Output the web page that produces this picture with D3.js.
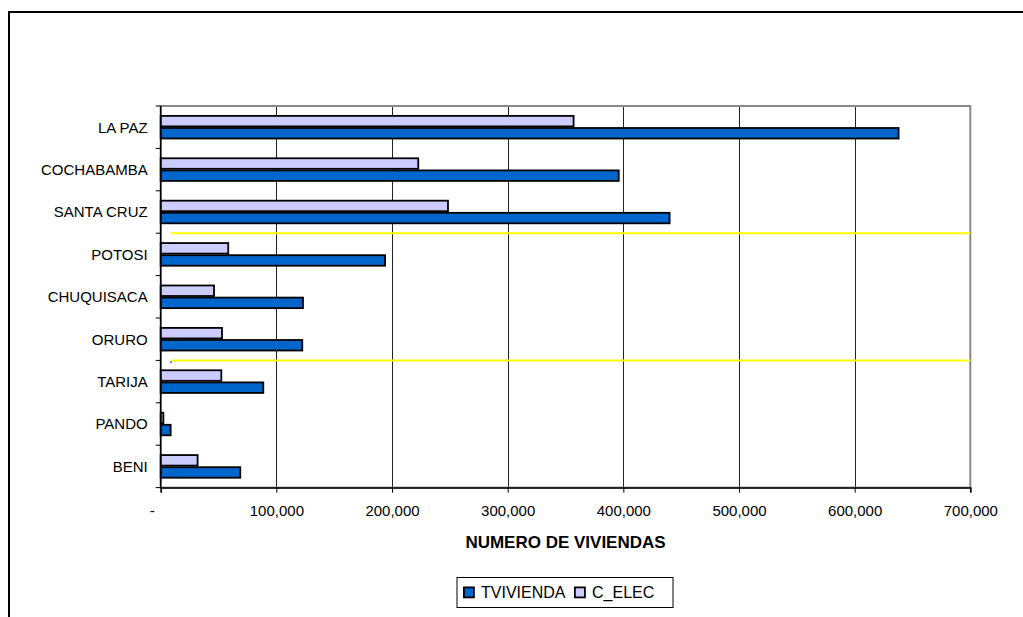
<!DOCTYPE html>
<html>
<head>
<meta charset="utf-8">
<script src="https://cdn.jsdelivr.net/npm/d3@7"></script>
<style>
  html, body { margin: 0; padding: 0; background: #fff; }
  svg { display: block; font-family: "Liberation Sans", Arial, sans-serif; }
</style>
</head>
<body>
<svg id="chart" width="1023" height="617"></svg>
<script>
// Departments, top to bottom
const departments = ["LA PAZ", "COCHABAMBA", "SANTA CRUZ", "POTOSI", "CHUQUISACA",
                     "ORURO", "TARIJA", "PANDO", "BENI"];
// Total dwellings per department
const tvivienda = [638000, 396000, 440000, 194000, 123000, 122400, 88700, 8600, 68800];
// Dwellings with electricity
const cElec = [357000, 222700, 248400, 58400, 46100, 53000, 52400, 2300, 31900];

const seriesNames = ["TVIVIENDA", "C_ELEC"];
const xTicks = [0, 100000, 200000, 300000, 400000, 500000, 600000, 700000];
const axisTitle = "NUMERO DE VIVIENDAS";

// Highlight lines drawn between department groups
const highlightAfter = ["SANTA CRUZ", "ORURO"];
const highlightFrom = 8700;

const svg = d3.select("#chart");
const W = 1023, H = 617;

// outer chart frame
svg.append("rect")
  .attr("x", 9).attr("y", 12)
  .attr("width", W + 20).attr("height", H + 20)
  .attr("fill", "#fff").attr("stroke", "#000").attr("stroke-width", 2);

const plot = { left: 160.7, right: 970.3, top: 106, bottom: 487.6 };

const x = d3.scaleLinear().domain([0, 700000]).range([plot.left, plot.right]);
const y = d3.scaleBand().domain(departments).range([plot.top, plot.bottom]).padding(0);

// gap width 150%: two bars + 1.5 bar of gap per category
const barH = y.bandwidth() / 3.5;
const groupOffset = barH * 0.75;

// vertical gridlines
svg.append("g").selectAll("line")
  .data(xTicks.slice(1, -1))
  .join("line")
  .attr("x1", d => Math.round(x(d)) + 0.5).attr("x2", d => Math.round(x(d)) + 0.5)
  .attr("y1", plot.top).attr("y2", plot.bottom)
  .attr("stroke", "#222").attr("stroke-width", 1);

// plot area border
svg.append("rect")
  .attr("x", plot.left).attr("y", plot.top)
  .attr("width", plot.right - plot.left).attr("height", plot.bottom - plot.top)
  .attr("fill", "none").attr("stroke", "#888").attr("stroke-width", 2);

// bars
const rows = departments.map((d, i) => ({ dep: d, values: [cElec[i], tvivienda[i]] }));
const fills = { "C_ELEC": "#CCCCFF", "TVIVIENDA": "#0066CC" };
const order = ["C_ELEC", "TVIVIENDA"];

const groups = svg.append("g").selectAll("g")
  .data(rows).join("g")
  .attr("transform", d => `translate(0,${y(d.dep) + groupOffset})`);

groups.selectAll("rect")
  .data(d => d.values.map((v, j) => ({ key: order[j], v, j })))
  .join("rect")
  .attr("x", x(0))
  .attr("y", d => d.j * barH + 0.8)
  .attr("width", d => x(d.v) - x(0))
  .attr("height", barH - 1.6)
  .attr("fill", d => fills[d.key])
  .attr("stroke", "#000")
  .attr("stroke-width", 1.8);

// yellow highlight lines at group boundaries
const hl = svg.append("g");
hl.selectAll("line")
  .data(highlightAfter)
  .join("line")
  .attr("x1", x(highlightFrom)).attr("x2", x(700000))
  .attr("y1", d => y(d) + y.bandwidth()).attr("y2", d => y(d) + y.bandwidth())
  .attr("stroke", "#FFFF00").attr("stroke-width", 2);
// small dark start mark on the lower line
hl.append("rect")
  .attr("x", x(highlightFrom) - 0.5)
  .attr("y", y(highlightAfter[1]) + y.bandwidth() + 1)
  .attr("width", 1.5).attr("height", 1.5)
  .attr("fill", "#333");

// x axis
const xAxis = d3.axisBottom(x)
  .tickValues(xTicks)
  .tickSize(5)
  .tickPadding(13)
  .tickFormat(d => d === 0 ? "-" : d3.format(",")(d));

const gx = svg.append("g")
  .attr("transform", `translate(0,${plot.bottom})`)
  .call(xAxis);
gx.select(".domain").attr("stroke", "#000").attr("stroke-width", 1.5);
gx.selectAll(".tick line").attr("stroke", "#000");
gx.selectAll(".tick text")
  .attr("font-size", 15).attr("fill", "#000")
  .attr("font-family", "Liberation Sans, Arial, sans-serif");
gx.selectAll(".tick").filter(d => d === 0).select("text").attr("dx", -9);

// category axis: ticks at boundaries, labels at centres
const gy = svg.append("g");
gy.append("line")
  .attr("x1", plot.left).attr("x2", plot.left)
  .attr("y1", plot.top).attr("y2", plot.bottom)
  .attr("stroke", "#000").attr("stroke-width", 1.5);

const boundaries = departments.map(d => y(d)).concat([plot.bottom]);
gy.selectAll("line.tk")
  .data(boundaries).join("line").attr("class", "tk")
  .attr("x1", plot.left - 5).attr("x2", plot.left)
  .attr("y1", d => d).attr("y2", d => d)
  .attr("stroke", "#000").attr("stroke-width", 1);

gy.selectAll("text")
  .data(departments).join("text")
  .attr("x", plot.left - 13)
  .attr("y", d => y(d) + y.bandwidth() / 2)
  .attr("dy", "0.36em")
  .attr("text-anchor", "end")
  .attr("font-size", 15)
  .attr("fill", "#000")
  .text(d => d);

// axis title
svg.append("text")
  .attr("x", (plot.left + plot.right) / 2)
  .attr("y", 548)
  .attr("text-anchor", "middle")
  .attr("font-size", 17)
  .attr("font-weight", "bold")
  .attr("fill", "#000")
  .text(axisTitle);

// legend
const legend = svg.append("g").attr("transform", "translate(457,577.5)");
legend.append("rect")
  .attr("width", 216).attr("height", 30)
  .attr("fill", "#fff").attr("stroke", "#000").attr("stroke-width", 1);

const legendItems = seriesNames.map((name, i) => ({ name, x: i === 0 ? 6 : 117 }));
const li = legend.selectAll("g.item").data(legendItems).join("g").attr("class", "item")
  .attr("transform", d => `translate(${d.x},0)`);
li.append("rect")
  .attr("x", 0.9).attr("y", 9.9)
  .attr("width", 10).attr("height", 10)
  .attr("fill", d => fills[d.name]).attr("stroke", "#000").attr("stroke-width", 1.8);
li.append("text")
  .attr("x", 18).attr("y", 15)
  .attr("dy", "0.36em")
  .attr("font-size", 16)
  .attr("fill", "#000")
  .text(d => d.name);
</script>
</body>
</html>
